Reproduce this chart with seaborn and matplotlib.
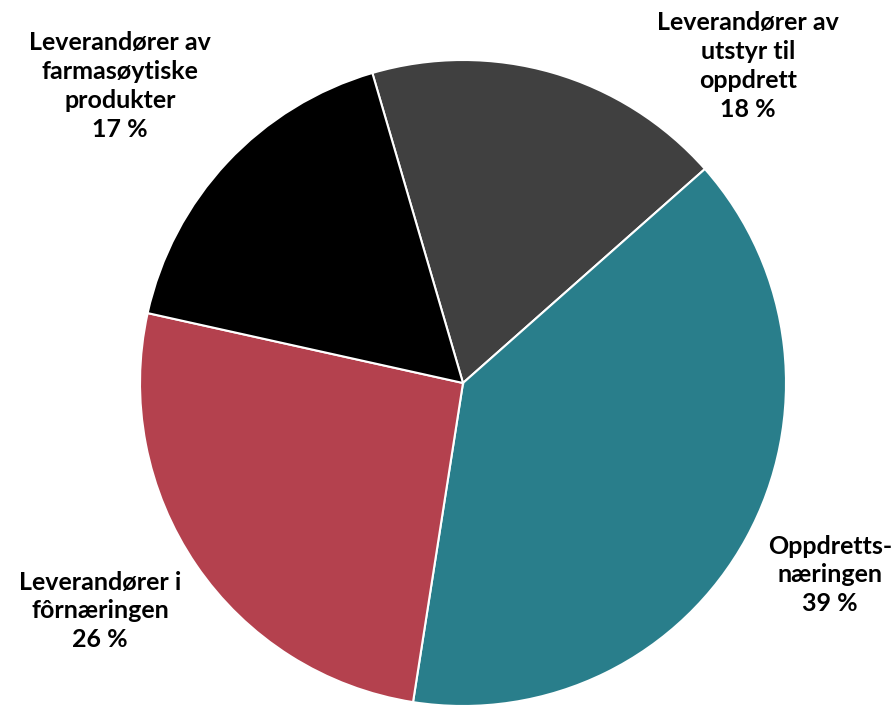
import matplotlib
matplotlib.use('Agg')
import matplotlib.pyplot as plt
import seaborn as sns

# shares, clockwise from the top-right dark slice
categories = ['Leverandører av\nutstyr til\noppdrett',
              'Oppdretts-\nnæringen',
              'Leverandører i\nfôrnæringen',
              'Leverandører av\nfarmasøytiske\nprodukter']
shares = [18, 39, 26, 17]
colors = ['#404040', '#297E8B', '#B4414E', '#000000']

# where Excel put each label (figure pixels, centre of the text block)
label_px = [(748, 66), (830, 575), (100, 611), (120, 86)]

sns.set_theme(style='white')
plt.rcParams['font.family'] = ['Lato', 'DejaVu Sans']

W, H = 894, 708
fig = plt.figure(figsize=(W / 100, H / 100), dpi=100)
cx, cy, r = 463, 383, 323
ax = fig.add_axes([(cx - r) / W, (H - cy - r) / H, 2 * r / W, 2 * r / H])

ax.pie(shares, colors=colors, startangle=106.3, counterclock=False,
       wedgeprops=dict(edgecolor='white', linewidth=1.5))
ax.set_xlim(-1.0, 1.0)
ax.set_ylim(-1.0, 1.0)
ax.set_aspect('equal')
ax.axis('off')

for name, val, (px, py) in zip(categories, shares, label_px):
    fig.text(px / W, 1 - py / H, f'{name}\n{val} %', ha='center', va='center',
             fontsize=18, fontweight='bold', color='black', linespacing=1.3)

fig.savefig('out.png', dpi=100)
